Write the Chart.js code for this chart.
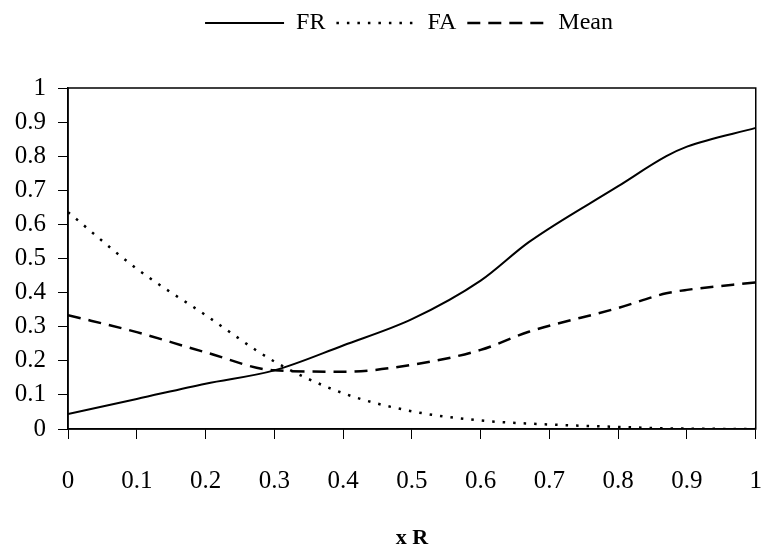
<!DOCTYPE html>
<html>
<head>
<meta charset="utf-8">
<script src="https://cdn.jsdelivr.net/npm/chart.js@4"></script>
<style>
  html, body { margin: 0; padding: 0; background: #fff; }
  #wrap { width: 762px; height: 546px; }
</style>
</head>
<body>
<div id="wrap"><canvas id="chartF"></canvas></div>
<script>
// values
const xR = [0, 0.1, 0.2, 0.3, 0.4, 0.5, 0.6, 0.67, 0.8, 0.87, 0.9, 1];
const frValues = [0.044, 0.088, 0.133, 0.172, 0.245, 0.322, 0.435, 0.548, 0.712, 0.8, 0.828, 0.883];
const faValues = [0.636, 0.47, 0.334, 0.198, 0.105, 0.052, 0.025, 0.016, 0.006, 0.002, 0.001, 0];
const meanValues = [0.334, 0.284, 0.225, 0.172, 0.168, 0.188, 0.232, 0.285, 0.355, 0.398, 0.408, 0.43];

const serif = "'Liberation Serif', 'DejaVu Serif', serif";

const pts = (ys) => xR.map((x, i) => ({ x: x, y: ys[i] }));

// box round the plot area
const frameBox = {
  id: "frameBox",
  afterDatasetsDraw(chart) {
    const a = chart.chartArea;
    const c = chart.ctx;
    c.save();
    c.strokeStyle = "#000";
    c.lineWidth = 1.5;
    c.strokeRect(a.left, a.top, a.right - a.left, a.bottom - a.top);
    c.restore();
  },
};

// room under the legend, and nudge it a bit to the right like the original
const legendGap = {
  id: "legendGap",
  beforeInit(chart) {
    const fit = chart.legend.fit;
    chart.legend.fit = function () {
      fit.bind(chart.legend)();
      this.height += 43;
    };
  },
  afterLayout(chart) {
    chart.legend.left += 28;
    chart.legend.right += 28;
  },
};

const tickLabel = (v) => String(+Number(v).toFixed(1));

new Chart(document.getElementById("chartF"), {
  type: "line",
  data: {
    datasets: [
      {
        label: "FR",
        data: pts(frValues),
        borderColor: "#000",
        borderWidth: 2,
        pointRadius: 0,
        cubicInterpolationMode: "monotone",
      },
      {
        label: "FA",
        data: pts(faValues),
        borderColor: "#000",
        borderWidth: 2.5,
        borderDash: [2.5, 8],
        pointRadius: 0,
        cubicInterpolationMode: "monotone",
      },
      {
        label: "Mean",
        data: pts(meanValues),
        borderColor: "#000",
        borderWidth: 2.5,
        borderDash: [13, 8],
        pointRadius: 0,
        cubicInterpolationMode: "monotone",
      },
    ],
  },
  options: {
    responsive: true,
    maintainAspectRatio: false,
    animation: false,
    layout: { padding: { left: 0, right: 0, top: 0, bottom: 0 } },
    plugins: {
      legend: {
        position: "top",
        labels: {
          color: "#000",
          font: { family: serif, size: 24 },
          usePointStyle: true,
          pointStyle: "line",
          pointStyleWidth: 79,
          padding: 11,
          generateLabels(chart) {
            const items = Chart.defaults.plugins.legend.labels.generateLabels(chart);
            items.forEach((it) => {
              const ds = chart.data.datasets[it.datasetIndex];
              it.lineDash = ds.borderDash || [];
              it.lineWidth = ds.borderWidth;
              it.strokeStyle = "#000";
              it.pointStyle = "line";
            });
            return items;
          },
        },
      },
      tooltip: { enabled: false },
    },
    scales: {
      x: {
        type: "linear",
        min: 0,
        max: 1,
        ticks: {
          stepSize: 0.1,
          color: "#000",
          font: { family: serif, size: 25, lineHeight: 3.36 },
          padding: 0,
          maxRotation: 0,
          callback: tickLabel,
        },
        grid: { drawOnChartArea: false, drawTicks: true, tickLength: 10, color: "#000" },
        border: { color: "#000", width: 1.5 },
        title: {
          display: true,
          text: "x R",
          color: "#000",
          font: { family: serif, size: 22, weight: "bold" },
          padding: { top: 0, bottom: -6 },
        },
        afterFit(scale) { scale.height = 117; },
      },
      y: {
        min: 0,
        max: 1,
        ticks: {
          stepSize: 0.1,
          color: "#000",
          font: { family: serif, size: 25 },
          padding: 12,
          callback: tickLabel,
        },
        grid: { drawOnChartArea: false, drawTicks: true, tickLength: 10, color: "#000" },
        border: { color: "#000", width: 1.5 },
        afterFit(scale) { scale.width = 68; },
      },
    },
  },
  plugins: [frameBox, legendGap],
});
</script>
</body>
</html>
